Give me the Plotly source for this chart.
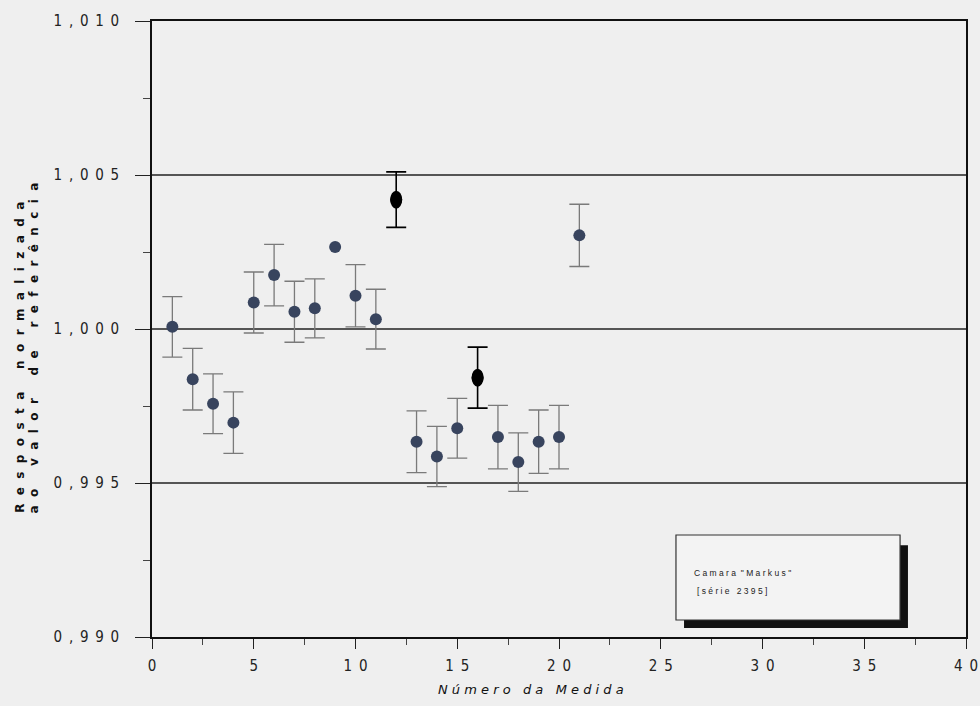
import plotly.graph_objects as go

# ---- data ----
medida = list(range(1, 22))
resposta = [1.00007, 0.99837, 0.99757, 0.99696, 1.00086, 1.00175, 1.00056,
            1.00067, 1.00266, 1.00108, 1.00032, 1.00420, 0.99634, 0.99586,
            0.99678, 0.99842, 0.99649, 0.99568, 0.99634, 0.99649, 1.00304]
incerteza = [0.00098, 0.00100, 0.00097, 0.00100, 0.00099, 0.00100, 0.00099,
             0.00096, None, 0.00101, 0.00097, 0.00090, 0.00100, 0.00098,
             0.00097, 0.00099, 0.00103, 0.00095, 0.00103, 0.00103, 0.00101]
destaque = [12, 16]  # medidas drawn in black

y_ticks = [0.990, 0.995, 1.000, 1.005, 1.010]
y_ticklabels = ["0,990", "0,995", "1,000", "1,005", "1,010"]
x_ticks = [0, 5, 10, 15, 20, 25, 30, 35, 40]
x_ticklabels = ["0", "5", "10", "15", "20", "25", "30", "35", "40"]

titulo_y1 = "Resposta normalizada"
titulo_y2 = "ao valor de referência"
titulo_x = "Número da Medida"
legenda1 = 'Camara "Markus"'
legenda2 = "[série 2395]"

BG = "#efefef"
BLUE = "#38445e"
EN = "\u2002"
THIN = "\u2009"


def spaced(text, sep, wordsep):
    words = text.split(" ")
    return wordsep.join(sep.join(list(w)) for w in words)


# normal points with uncertainty, normal points without, highlighted points
nx = [m for m in medida if m not in destaque and incerteza[m - 1] is not None]
ny = [resposta[m - 1] for m in nx]
ne = [incerteza[m - 1] for m in nx]
sx = [m for m in medida if m not in destaque and incerteza[m - 1] is None]
sy = [resposta[m - 1] for m in sx]
hx = [m for m in destaque]
hy = [resposta[m - 1] for m in hx]
he = [incerteza[m - 1] for m in hx]

fig = go.Figure()
fig.add_trace(go.Scatter(
    x=nx, y=ny, mode="markers",
    marker=dict(color=BLUE, size=12, line=dict(width=0)),
    error_y=dict(type="data", array=ne, visible=True, color="#7a7a7a",
                 thickness=1.3, width=10),
    showlegend=False))
fig.add_trace(go.Scatter(
    x=sx, y=sy, mode="markers",
    marker=dict(color=BLUE, size=12, line=dict(width=0)),
    showlegend=False))
fig.add_trace(go.Scatter(
    x=hx, y=hy, mode="markers",
    marker=dict(color="black", size=12, line=dict(width=0)),
    error_y=dict(type="data", array=he, visible=True, color="black",
                 thickness=1.6, width=10),
    showlegend=False))

shapes = []
# elliptical black markers
for xv, yv in zip(hx, hy):
    shapes.append(dict(type="circle", xref="x", yref="y", xsizemode="pixel",
                       ysizemode="pixel", xanchor=xv, yanchor=yv,
                       x0=-6, x1=6, y0=-9, y1=9, fillcolor="black",
                       line=dict(width=0)))
# legend box with shadow
shapes.append(dict(type="rect", xref="paper", yref="paper",
                   x0=0.6536, x1=0.9287, y0=0.0146, y1=0.149,
                   fillcolor="#111111", line=dict(width=0), layer="above"))
shapes.append(dict(type="rect", xref="paper", yref="paper",
                   x0=0.6437, x1=0.919, y0=0.0276, y1=0.1656,
                   fillcolor="#f3f3f3", line=dict(color="#333333", width=1.2),
                   layer="above"))

ytfont = dict(family="DejaVu Sans", size=12, color="#111111")
legfont = dict(family="Liberation Sans, Arial", size=8.5, color="#222222")
annotations = [
    dict(text="<b>" + spaced(titulo_y1, EN + THIN, EN + THIN + EN + THIN + EN) + "</b>",
         xref="paper", yref="paper", x=-0.163, y=0.198, showarrow=False,
         textangle=-90, font=ytfont, xanchor="center", yanchor="bottom"),
    dict(text="<b>" + spaced(titulo_y2, EN + THIN, EN + THIN + EN + THIN + EN) + "</b>",
         xref="paper", yref="paper", x=-0.145, y=0.198, showarrow=False,
         textangle=-90, font=ytfont, xanchor="center", yanchor="bottom"),
    dict(text="<i>" + spaced(titulo_x, " ", "   ") + "</i>", xref="paper",
         yref="paper", x=0.465, y=-0.085, showarrow=False,
         font=dict(family="DejaVu Sans", size=13, color="#111111"),
         xanchor="center", yanchor="middle"),
    dict(text=spaced(legenda1, " ", "  "), xref="paper", yref="paper",
         x=0.663, y=0.104, showarrow=False, xanchor="left", yanchor="middle",
         font=legfont),
    dict(text=spaced(legenda2, " ", "   "), xref="paper", yref="paper",
         x=0.667, y=0.0747, showarrow=False, xanchor="left", yanchor="middle",
         font=legfont),
]

tickfont = dict(family="Liberation Sans Narrow, DejaVu Sans Condensed", size=15,
                color="#222222")

fig.update_layout(
    width=980, height=706,
    margin=dict(l=152, r=14, t=21, b=69),
    paper_bgcolor=BG, plot_bgcolor=BG,
    shapes=shapes, annotations=annotations,
    font=dict(family="Liberation Sans, Arial", size=12, color="#333333"),
)
fig.update_xaxes(
    range=[0, 40], tickvals=x_ticks,
    ticktext=[EN.join(list(t)) for t in x_ticklabels], tickfont=tickfont,
    showgrid=False, zeroline=False, automargin=False,
    showline=True, linecolor="#111111", linewidth=1.6, mirror=True,
    ticks="outside", ticklen=10, tickwidth=1.3, tickcolor="#222222",
    ticklabelstandoff=4,
    minor=dict(dtick=2.5, ticks="outside", ticklen=6, tickwidth=1.1,
               tickcolor="#444444", showgrid=False),
)
fig.update_yaxes(
    range=[0.990, 1.010], tickvals=y_ticks,
    ticktext=[EN.join(list(t)) for t in y_ticklabels], tickfont=tickfont,
    showgrid=True, gridcolor="#555555", gridwidth=1.6, zeroline=False,
    automargin=False,
    showline=True, linecolor="#111111", linewidth=1.6, mirror=True,
    ticks="outside", ticklen=15, tickwidth=1.3, tickcolor="#222222",
    ticklabelstandoff=13,
    minor=dict(tickvals=[0.9925, 0.9975, 1.0025, 1.0075], ticks="outside",
               ticklen=7, tickwidth=1.1, tickcolor="#444444", showgrid=False),
)

fig.write_html("out.html")
